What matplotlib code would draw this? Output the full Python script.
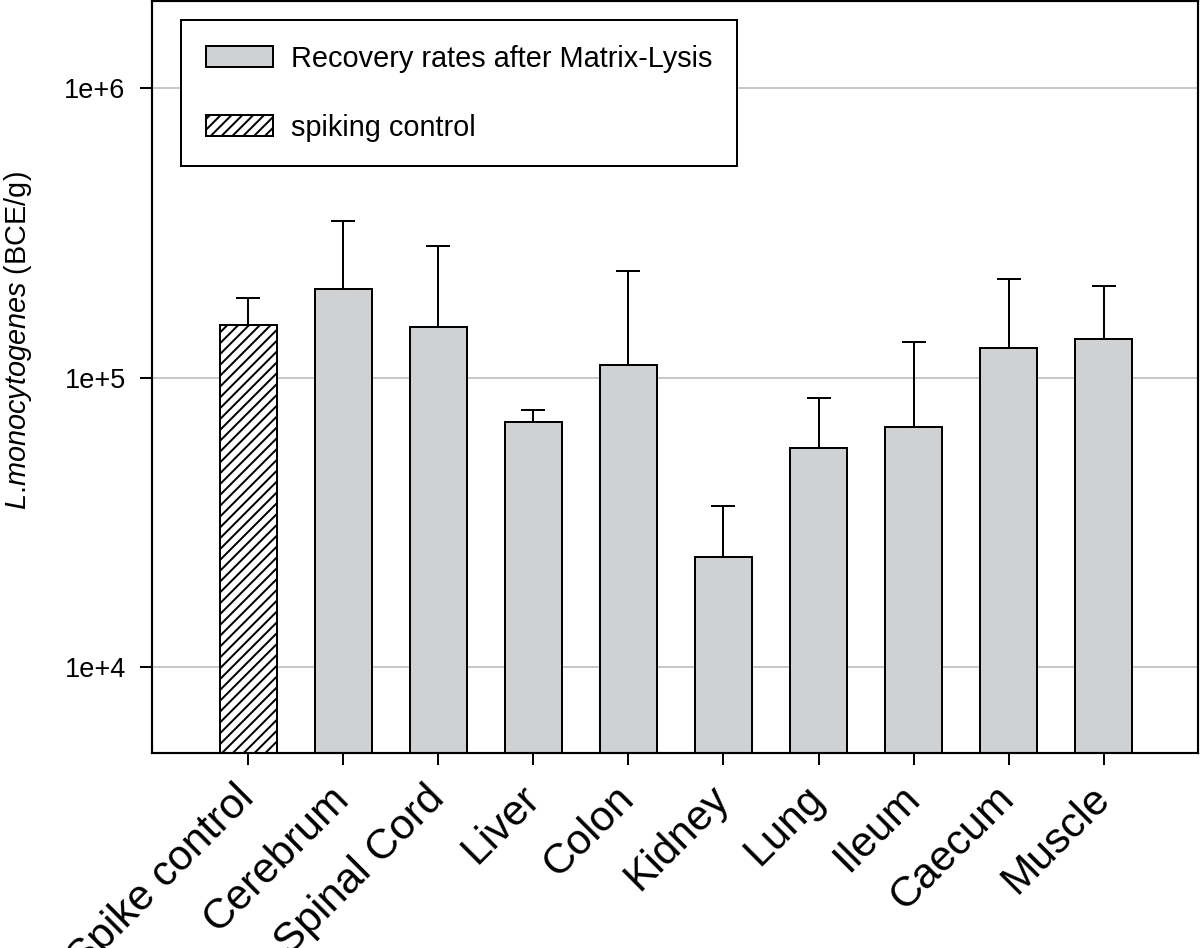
import matplotlib
matplotlib.use("Agg")
import matplotlib.pyplot as plt
from matplotlib.patches import Patch
from matplotlib.ticker import FixedLocator, FixedFormatter, NullLocator

# ---- data ----
categories = ["Spike control", "Cerebrum", "Spinal Cord", "Liver", "Colon",
              "Kidney", "Lung", "Ileum", "Caecum", "Muscle"]
means = [1.52e5, 2.02e5, 1.49e5, 7.05e4, 1.11e5, 2.40e4, 5.73e4, 6.77e4, 1.27e5, 1.365e5]
upper = [1.89e5, 3.47e5, 2.86e5, 7.72e4, 2.34e5, 3.61e4, 8.53e4, 1.33e5, 2.20e5, 2.08e5]
ytick_values = [1e4, 1e5, 1e6]
ytick_labels = ["1e+4", "1e+5", "1e+6"]
legend_labels = ["Recovery rates after Matrix-Lysis", "spiking control"]
ylabel = r"$\mathit{L}$.$\mathit{monocytogenes}$ (BCE/g)"

# ---- style ----
DPI = 130
LW = 1.1
plt.rcParams['font.family'] = ['Liberation Sans', 'DejaVu Sans']
plt.rcParams['mathtext.fontset'] = 'custom'
plt.rcParams['mathtext.it'] = 'Liberation Sans:italic'
plt.rcParams['mathtext.rm'] = 'Liberation Sans'
plt.rcParams['hatch.linewidth'] = LW
plt.rcParams['hatch.color'] = 'black'

bar_color = '#d0d1d3'
grid_color = '#c8c8c8'

fig = plt.figure(figsize=(1200 / DPI, 948 / DPI), dpi=DPI)
ax = fig.add_axes([152 / 1200, 1 - 753 / 948, (1198 - 152) / 1200, (753 - 1) / 948])
ax.set_yscale('log')

x = list(range(len(categories)))
colors = ['white'] + [bar_color] * (len(categories) - 1)
hatches = ['////'] + [''] * (len(categories) - 1)

base = 1e3
heights = [m - base for m in means]
bars = ax.bar(x, heights, width=0.6, bottom=base, color=colors, edgecolor='black',
              linewidth=LW, zorder=2)
for b, h in zip(bars, hatches):
    b.set_hatch(h)

err_up = [u - m for u, m in zip(upper, means)]
err_lo = [0] * len(means)
ax.errorbar(x, means, yerr=[err_lo, err_up], fmt='none', ecolor='black',
            elinewidth=LW, capsize=6.4, capthick=LW, zorder=3)

ax.set_ylim(5.05e3, 2.0e6)
ax.set_xlim(-1.01, 9.99)

ax.yaxis.set_major_locator(FixedLocator(ytick_values))
ax.yaxis.set_major_formatter(FixedFormatter(ytick_labels))
ax.yaxis.set_minor_locator(NullLocator())
ax.grid(axis='y', which='major', color=grid_color, linewidth=LW, zorder=0)
ax.set_axisbelow(True)

ax.set_xticks(x)
ax.set_xticklabels(categories, rotation=45, ha='right', va='center',
                   rotation_mode='anchor', fontsize=23.5)

ax.tick_params(axis='both', direction='out', length=6.6, width=LW, color='black')
ax.tick_params(axis='x', pad=15)
ax.tick_params(axis='y', labelsize=15, pad=8)

for s in ax.spines.values():
    s.set_linewidth(1.2)
    s.set_color('black')

ax.set_ylabel(ylabel, fontsize=16)
ax.yaxis.set_label_coords(-0.113, 0.548)

handles = [Patch(facecolor=bar_color, edgecolor='black', linewidth=LW),
           Patch(facecolor='white', edgecolor='black', linewidth=LW, hatch='////')]
leg = ax.legend(handles, legend_labels, loc='upper left',
                bbox_to_anchor=(0.0277, 0.9747), borderaxespad=0,
                fontsize=16, frameon=True, fancybox=False, shadow=False,
                framealpha=1, edgecolor='black', handlelength=2.35,
                handleheight=0.75, handletextpad=0.6, labelspacing=1.42,
                borderpad=0.85)
leg.get_frame().set_linewidth(LW)
leg.set_zorder(5)

fig.savefig('out.png', dpi=DPI)
